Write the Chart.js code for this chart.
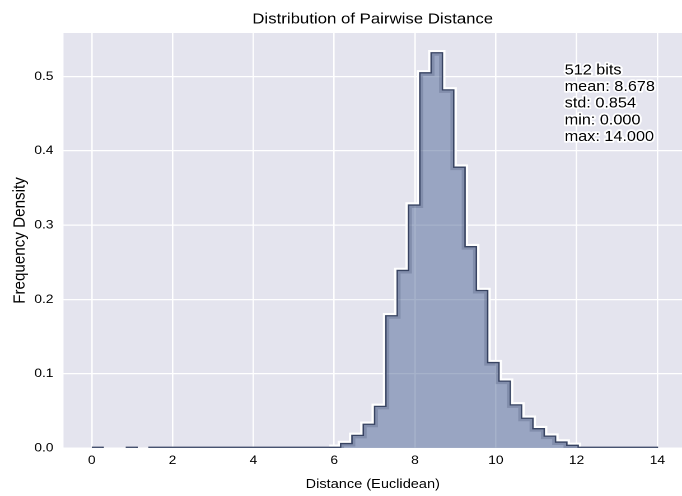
<!DOCTYPE html>
<html><head><meta charset="utf-8">
<script src="https://cdn.jsdelivr.net/npm/chart.js@4.4.1/dist/chart.umd.min.js"></script>
<style>
html,body{margin:0;padding:0;background:#fff;overflow:hidden;width:682px;height:496px}
#wrap{width:609px;height:496px;transform:scaleX(1.11987);transform-origin:0 0}
canvas{display:block}
</style></head><body>
<div id="wrap"><canvas id="c" width="609" height="496" style="width:609px;height:496px"></canvas></div>
<script>
// ---- data ----
const binEdges = [0.00,0.28,0.56,0.84,1.12,1.40,1.68,1.96,2.24,2.52,2.80,3.08,3.36,3.64,3.92,4.20,4.48,4.76,5.04,5.32,5.60,5.88,6.16,6.44,6.72,7.00,7.28,7.56,7.84,8.12,8.40,8.68,8.96,9.24,9.52,9.80,10.08,10.36,10.64,10.92,11.20,11.48,11.76,12.04,12.32,12.60,12.88,13.16,13.44,13.72,14.00];
const density = [0.001,0,0,0.001,0,
  0.001,0.001,0.001,0.001,0.001,0.001,0.001,0.001,0.001,0.001,0.001,0.001,0.001,0.001,0.001,0.001,0.001,
  0.006,0.017,0.032,0.056,0.178,0.239,0.327,0.505,0.532,0.482,0.378,0.271,0.212,0.115,0.090,0.058,0.040,0.026,0.016,0.008,0.0036,
  0.001,0.001,0.001,0.001,0.001,0.001,0.001];
const xTickValues = [0,2,4,6,8,10,12,14];
const yTickValues = [0.0,0.1,0.2,0.3,0.4,0.5];
const statsLines = ['512 bits','mean: 8.678','std: 0.854','min: 0.000','max: 14.000'];
const titleText = 'Distribution of Pairwise Distance';
const xLabel = 'Distance (Euclidean)';
const yLabel = 'Frequency Density';

// ---- chart ----
const FONT = '"Liberation Sans", Arial, Helvetica, sans-serif';
Chart.defaults.font.family = FONT;
const points = binEdges.map((x, i) => ({x: x, y: i < density.length ? density[i] : 0}));
const yMax = Math.max(...density) * 1.05;
const MAIN = 1;

function stepPath(chart, ctx) {
  const pts = chart.getDatasetMeta(MAIN).data;
  const base = chart.scales.y.getPixelForValue(0);
  ctx.moveTo(pts[0].x, base);
  ctx.lineTo(pts[0].x, pts[0].y);
  for (let i = 1; i < pts.length; i++) {
    ctx.lineTo(pts[i].x, pts[i-1].y);
    ctx.lineTo(pts[i].x, pts[i].y);
  }
  ctx.lineTo(pts[pts.length-1].x, base);
  ctx.closePath();
}

const clipPlugin = {
  id: 'edgeClip',
  beforeDatasetDraw(chart, args) {
    const ctx = chart.ctx;
    if (args.index === 0) { // halo: outside only
      ctx.save();
      ctx.beginPath();
      ctx.rect(0, 0, chart.width, chart.height);
      stepPath(chart, ctx);
      ctx.clip('evenodd');
    } else if (args.index === 2) { // inner shadow: inside only
      ctx.save();
      ctx.beginPath();
      stepPath(chart, ctx);
      ctx.clip();
    }
  },
  afterDatasetDraw(chart, args) {
    if (args.index === 0 || args.index === 2) chart.ctx.restore();
  }
};

const bgPlugin = {
  id: 'plotBg',
  beforeDraw(chart) {
    const {ctx, chartArea: a} = chart;
    ctx.save();
    ctx.fillStyle = '#E4E4EE';
    ctx.fillRect(a.left, a.top, a.right - a.left, a.bottom - a.top);
    ctx.restore();
  }
};

const statsPlugin = {
  id: 'stats',
  afterDraw(chart) {
    const {ctx, chartArea: a} = chart;
    const axRight = chart.scales.x.getPixelForValue(14.7);
    const x0 = a.left + 0.8055 * (axRight - a.left);
    let y = a.top + 0.0995 * (a.bottom - a.top);
    ctx.save();
    ctx.font = '14.5px ' + FONT;
    ctx.textBaseline = 'alphabetic';
    ctx.textAlign = 'left';
    ctx.lineJoin = 'round';
    ctx.strokeStyle = 'rgba(255,255,255,0.95)';
    ctx.lineWidth = 3.5;
    ctx.fillStyle = '#000';
    statsLines.forEach(t => {
      ctx.strokeText(t, x0, y);
      ctx.fillText(t, x0, y);
      y += 16.7;
    });
    ctx.restore();
  }
};

const tiny = c => (c.p0.parsed.y < 0.003 && c.p1.parsed.y < 0.003) ? 'rgba(0,0,0,0)' : undefined;

new Chart(document.getElementById('c'), {
  type: 'line',
  data: {
    datasets: [
      { // halo
        data: points, stepped: 'before', fill: false, pointRadius: 0,
        borderColor: 'rgba(255,255,255,0.97)', borderWidth: 5.5, order: 3,
        segment: {borderColor: tiny}
      },
      { // main filled histogram
        data: points, stepped: 'before', fill: 'origin', pointRadius: 0,
        backgroundColor: 'rgba(78,102,150,0.5)',
        borderColor: '#3A4664', borderWidth: 1.3, order: 2, clip: 0,
        segment: {borderColor: c => c.p0.parsed.y === 0 ? 'rgba(0,0,0,0)' : undefined}
      },
      { // inner shadow
        data: points, stepped: 'before', fill: false, pointRadius: 0,
        borderColor: 'rgba(40,50,85,0.2)', borderWidth: 6, order: 1,
        segment: {borderColor: tiny}
      }
    ]
  },
  options: {
    responsive: false,
    animation: false,
    devicePixelRatio: 2,
    layout: {padding: 0},
    plugins: {
      legend: {display: false},
      tooltip: {enabled: false},
      title: {
        display: true, text: titleText, fullSize: false, color: '#000',
        font: {size: 15, weight: 'normal'}, padding: {top: 10.5, bottom: 4.5}
      }
    },
    scales: {
      x: {
        type: 'linear', min: -0.7, max: 14.61,
        afterBuildTicks: s => { s.ticks = xTickValues.map(v => ({value: v})); },
        afterFit: s => { s.height = 48; },
        grid: {color: '#ffffff', lineWidth: 1.3, drawTicks: false},
        border: {display: false},
        ticks: {padding: 5, color: '#000', font: {size: 12.3}, autoSkip: false, maxRotation: 0,
                callback: v => String(v)},
        title: {display: true, text: xLabel, color: '#000', font: {size: 13}, padding: {top: 0, bottom: 4}}
      },
      y: {
        type: 'linear', min: 0, max: yMax,
        afterBuildTicks: s => { s.ticks = yTickValues.map(v => ({value: v})); },
        afterFit: s => { s.width = 56.7; },
        grid: {color: '#ffffff', lineWidth: 1.3, drawTicks: false},
        border: {display: false},
        ticks: {padding: 9, color: '#000', font: {size: 12.3}, callback: v => v.toFixed(1)},
        title: {display: true, text: yLabel, color: '#000', font: {size: 15.2}, padding: {top: 8.8, bottom: 0}}
      }
    }
  },
  plugins: [bgPlugin, clipPlugin, statsPlugin]
});
</script>
</body></html>
